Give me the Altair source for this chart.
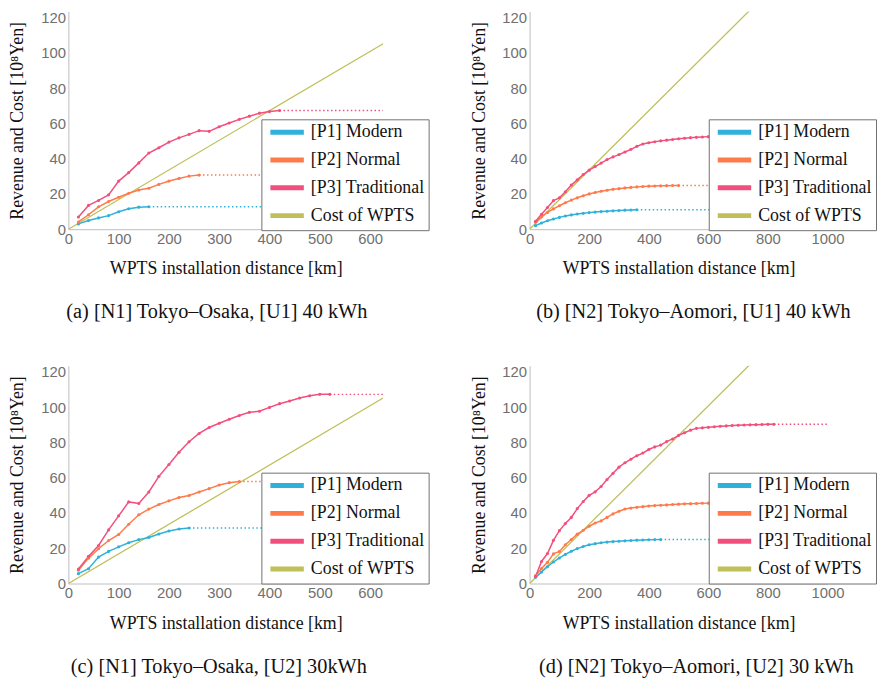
import altair as alt
import pandas as pd

SERIES = ["[P1] Modern", "[P2] Normal", "[P3] Traditional", "Cost of WPTS"]
COLORS = ["#2fb1db", "#ff7a4b", "#f2507c", "#bfc05a"]

# Panel (a) [N1] Tokyo–Osaka, [U1] 40 kWh
a_p1 = [3.0, 4.9, 6.4, 7.7, 9.9, 11.6, 12.5, 12.7]
a_p2 = [4.1, 8.2, 12.7, 15.7, 18.1, 20.4, 22.2, 23.2, 25.4, 27.3, 28.8, 30.1, 30.7]
a_p3 = [6.9, 13.5, 16.3, 19.5, 27.3, 32.1, 37.6, 43.2, 46.2, 49.4, 51.8, 53.8, 55.9,
        55.5, 58.1, 60.2, 62.3, 64.1, 65.8, 66.7, 67.3]
# Panel (b) [N2] Tokyo–Aomori, [U1] 40 kWh
b_p1 = [2.0, 3.5, 4.8, 5.8, 6.7, 7.5, 8.1, 8.6, 9.0, 9.4, 9.7, 10.0, 10.2, 10.4, 10.6,
        10.8, 10.9, 11.0]
b_p2 = [4.0, 7.0, 9.5, 11.5, 13.3, 15.0, 16.5, 17.8, 19.0, 20.0, 20.8, 21.5, 22.1, 22.6,
        23.0, 23.4, 23.7, 24.0, 24.2, 24.4, 24.5, 24.6, 24.7, 24.8, 24.8]
b_p3 = [4.5, 8.5, 12.3, 16.2, 17.8, 21.2, 25.0, 28.0, 31.0, 33.5, 35.5, 37.5, 39.5, 41.0,
        42.3, 43.8, 45.3, 47.0, 48.3, 49.0, 49.6, 50.1, 50.5, 50.9, 51.3, 51.6, 51.9, 52.1,
        52.3, 52.5, 52.6, 52.7, 52.8, 52.9, 53.0]
# Panel (c) [N1] Tokyo–Osaka, [U2] 30kWh
c_p1 = [5.6, 8.4, 15.0, 18.2, 20.8, 23.1, 24.9, 26.1, 28.1, 29.8, 30.9, 31.5]
c_p2 = [7.5, 14.4, 19.7, 24.4, 27.8, 33.6, 39.0, 42.2, 44.8, 46.9, 48.8, 49.9, 51.9, 53.8,
        55.9, 57.2, 57.9]
c_p3 = [8.2, 15.4, 21.6, 30.4, 38.4, 46.3, 45.4, 51.9, 60.8, 67.5, 74.4, 80.4, 85.1, 88.5,
        90.9, 93.2, 95.3, 97.1, 97.7, 99.9, 102.0, 103.5, 105.2, 106.5, 107.3, 107.3]
# Panel (d) [N2] Tokyo–Aomori, [U2] 30 kWh
d_p1 = [3.5, 6.5, 9.5, 12.2, 14.5, 16.5, 18.3, 19.8, 21.0, 22.0, 22.6, 23.1, 23.5, 23.8,
        24.0, 24.2, 24.4, 24.6, 24.7, 24.8, 24.9, 25.0]
d_p2 = [4.5, 8.5, 12.0, 16.8, 18.2, 22.0, 25.0, 28.0, 30.2, 32.5, 34.3, 35.5, 37.5, 39.5,
        41.0, 42.3, 42.8, 43.2, 43.6, 44.0, 44.2, 44.4, 44.6, 44.8, 45.0, 45.2, 45.3, 45.4,
        45.5, 45.6]
d_p3 = [4.0, 12.5, 17.0, 24.5, 30.0, 34.0, 37.5, 42.5, 46.5, 50.0, 52.0, 55.0, 59.0, 62.5,
        66.0, 68.5, 70.5, 72.5, 74.0, 76.0, 77.5, 78.5, 80.5, 82.0, 84.0, 85.5, 87.0, 88.0,
        88.3, 88.6, 88.9, 89.2, 89.4, 89.6, 89.8, 89.9, 90.0, 90.1, 90.2, 90.3, 90.3]

STEP_KM = 20  # sampling interval of the WPTS installation distance

# cost line end points (km, 10^8 Yen)
cost_short = ([0, 626], [0, 105.2])
cost_long = ([0, 1000], [0, 168.0])

captions = ["(a) [N1] Tokyo\u2013Osaka, [U1] 40 kWh",
            "(b) [N2] Tokyo\u2013Aomori, [U1] 40 kWh",
            "(c) [N1] Tokyo\u2013Osaka, [U2] 30kWh",
            "(d) [N2] Tokyo\u2013Aomori, [U2] 30 kWh"]

ticks_short = [0, 100, 200, 300, 400, 500, 600]
ticks_long = [0, 200, 400, 600, 800, 1000]
y_ticks = [0, 20, 40, 60, 80, 100, 120]

YMAX = 123.5
H = 220


def panel(series_vals, cost, xmax, xticks, width, caption, legx, legy, capdx):
    solid_rows, dot_rows = [], []
    for name, vals in zip(SERIES[:3], series_vals):
        kms = list(range(STEP_KM, STEP_KM * len(vals) + 1, STEP_KM))
        for k, v in zip(kms, vals):
            solid_rows.append({"km": k, "val": v, "series": name})
        dot_rows.append({"km": kms[-1], "val": vals[-1], "series": name})
        dot_rows.append({"km": xmax, "val": vals[-1], "series": name})
    cost_rows = [{"km": k, "val": v, "series": SERIES[3]} for k, v in zip(*cost)]

    color = alt.Color("series:N",
                      scale=alt.Scale(domain=SERIES, range=COLORS),
                      sort=SERIES,
                      legend=alt.Legend(title=None, orient="none",
                                        legendX=legx, legendY=legy))
    x = alt.X("km:Q", scale=alt.Scale(domain=[0, xmax], nice=False, zero=True),
              axis=alt.Axis(values=xticks, title="WPTS installation distance [km]",
                            format="d", labelFlush=False))
    y = alt.Y("val:Q", scale=alt.Scale(domain=[0, YMAX], nice=False),
              axis=alt.Axis(values=y_ticks, title="Revenue and Cost [10\u2078Yen]",
                            labelFlush=False))

    cost_l = alt.Chart(pd.DataFrame(cost_rows)).mark_line(
        clip=True, strokeWidth=1.3).encode(x=x, y=y, color=color)
    dot_l = alt.Chart(pd.DataFrame(dot_rows)).mark_line(
        strokeWidth=1.4, strokeDash=[1.5, 2.5]).encode(x=x, y=y, color=color,
                                                       detail="series:N")
    solid_l = alt.Chart(pd.DataFrame(solid_rows)).mark_line(
        strokeWidth=1.5,
        point=alt.OverlayMarkDef(filled=True, size=10, opacity=1)).encode(
        x=x, y=y, color=color)
    return alt.layer(cost_l, dot_l, solid_l).properties(
        width=width, height=H,
        title=alt.TitleParams(caption, orient="bottom", anchor="middle",
                              dx=capdx, offset=25))


W_SHORT = 318
W_LONG = 301

pa = panel([a_p1, a_p2, a_p3], cost_short, 626, ticks_short, W_SHORT, captions[0], 195, 109, -9)
pb = panel([b_p1, b_p2, b_p3], cost_long, 1000, ticks_long, W_LONG, captions[1], 181, 109, 15)
pc = panel([c_p1, c_p2, c_p3], cost_short, 626, ticks_short, W_SHORT, captions[2], 195, 108, -7)
pd_ = panel([d_p1, d_p2, d_p3], cost_long, 1000, ticks_long, W_LONG, captions[3], 181, 108, 18)

chart = alt.concat(pa, pb, pc, pd_, columns=2, bounds="flush",
                   spacing={"row": 138, "column": 148}).resolve_legend(
    color="independent").properties(
    padding={"left": 0, "top": -1, "right": 0, "bottom": 0}
).configure_view(stroke=None).configure_axis(
    grid=False, ticks=False, domainColor="#bdbdbd", domainWidth=1,
    labelFont="Liberation Sans", labelFontSize=15, labelColor="#707070",
    titleFont="Liberation Serif", titleFontSize=18, titleFontWeight="normal",
    titleColor="#111111"
).configure_axisX(labelPadding=2, titlePadding=14).configure_axisY(
    labelPadding=3, titlePadding=14
).configure_legend(
    symbolType="M-2.6,0H2.6", symbolStrokeWidth=5, symbolSize=169,
    symbolOffset=13, labelOffset=15,
    labelFont="Liberation Serif", labelFontSize=18, labelColor="#111111",
    labelLimit=300, strokeColor="#707070", fillColor="white", padding=4,
    rowPadding=8.1, cornerRadius=0, symbolOpacity=1
).configure_title(
    font="Liberation Serif", fontSize=20.5, fontWeight="normal", color="#111111"
)

chart.save("out.html", embed_options={"renderer": "svg", "actions": False})
